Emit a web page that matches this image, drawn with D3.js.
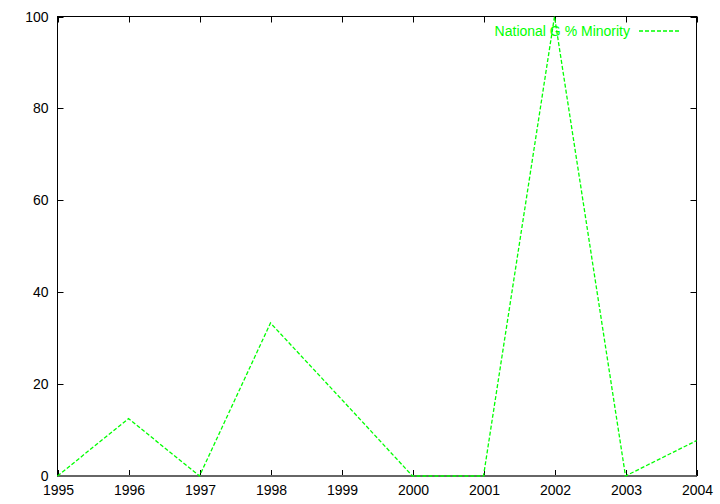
<!DOCTYPE html>
<html><head><meta charset="utf-8">
<script src="https://cdn.jsdelivr.net/npm/d3@7"></script>
<style>body{margin:0;background:#fff}svg{display:block}text{font-family:"Liberation Sans",Arial,sans-serif;font-size:14px}</style>
</head><body><svg id="c" width="720" height="504"></svg>
<script>
const years = [1995,1996,1997,1998,1999,2000,2001,2002,2003,2004];
const values = [0,12.5,0,33.3,16.7,0,0,100,0,7.7];
const yTicks = [0,20,40,60,80,100];
const seriesName = "National G % Minority";

const svg = d3.select("#c");
const L=57.5,R=696.5,T=16.5,B=476;
const x = d3.scaleLinear().domain([1995,2004]).range([L,R]);
const y = d3.scaleLinear().domain([0,100]).range([B,T]);

svg.append("rect").attr("x",L).attr("y",T).attr("width",R-L).attr("height",B-T).attr("fill","none").attr("stroke","#000").attr("stroke-width",1);

const g = svg.append("g");
yTicks.forEach(v=>{
  const yy = Math.round(y(v))+0.5;
  g.append("line").attr("x1",L).attr("x2",L+6).attr("y1",yy).attr("y2",yy).attr("stroke","#000");
  g.append("line").attr("x1",R-6).attr("x2",R).attr("y1",yy).attr("y2",yy).attr("stroke","#000");
  g.append("text").attr("x",L-9).attr("y",yy).attr("dy","0.35em").attr("text-anchor","end").text(v);
});
years.forEach(v=>{
  const xx = Math.round(x(v))+0.5;
  g.append("line").attr("x1",xx).attr("x2",xx).attr("y1",B).attr("y2",B-6).attr("stroke","#000");
  g.append("line").attr("x1",xx).attr("x2",xx).attr("y1",T).attr("y2",T+6).attr("stroke","#000");
  g.append("text").attr("x",xx).attr("y",B+19).attr("text-anchor","middle").text(v);
});
svg.append("line").attr("x1",L).attr("x2",R).attr("y1",B).attr("y2",B).attr("stroke","#666").attr("stroke-width",2);

const line = d3.line().x((d,i)=>x(years[i])).y(d=>y(d));
svg.append("path").datum(values).attr("d",line).attr("fill","none").attr("stroke","#00ff00").attr("stroke-width",1.3).attr("stroke-dasharray","4,2");

svg.append("text").attr("x",630).attr("y",31).attr("dy","0.35em").attr("text-anchor","end").attr("fill","#00ff00").text(seriesName);
svg.append("line").attr("x1",639).attr("x2",679).attr("y1",31).attr("y2",31).attr("stroke","#00ff00").attr("stroke-width",1.3).attr("stroke-dasharray","4,2");
</script></body></html>
